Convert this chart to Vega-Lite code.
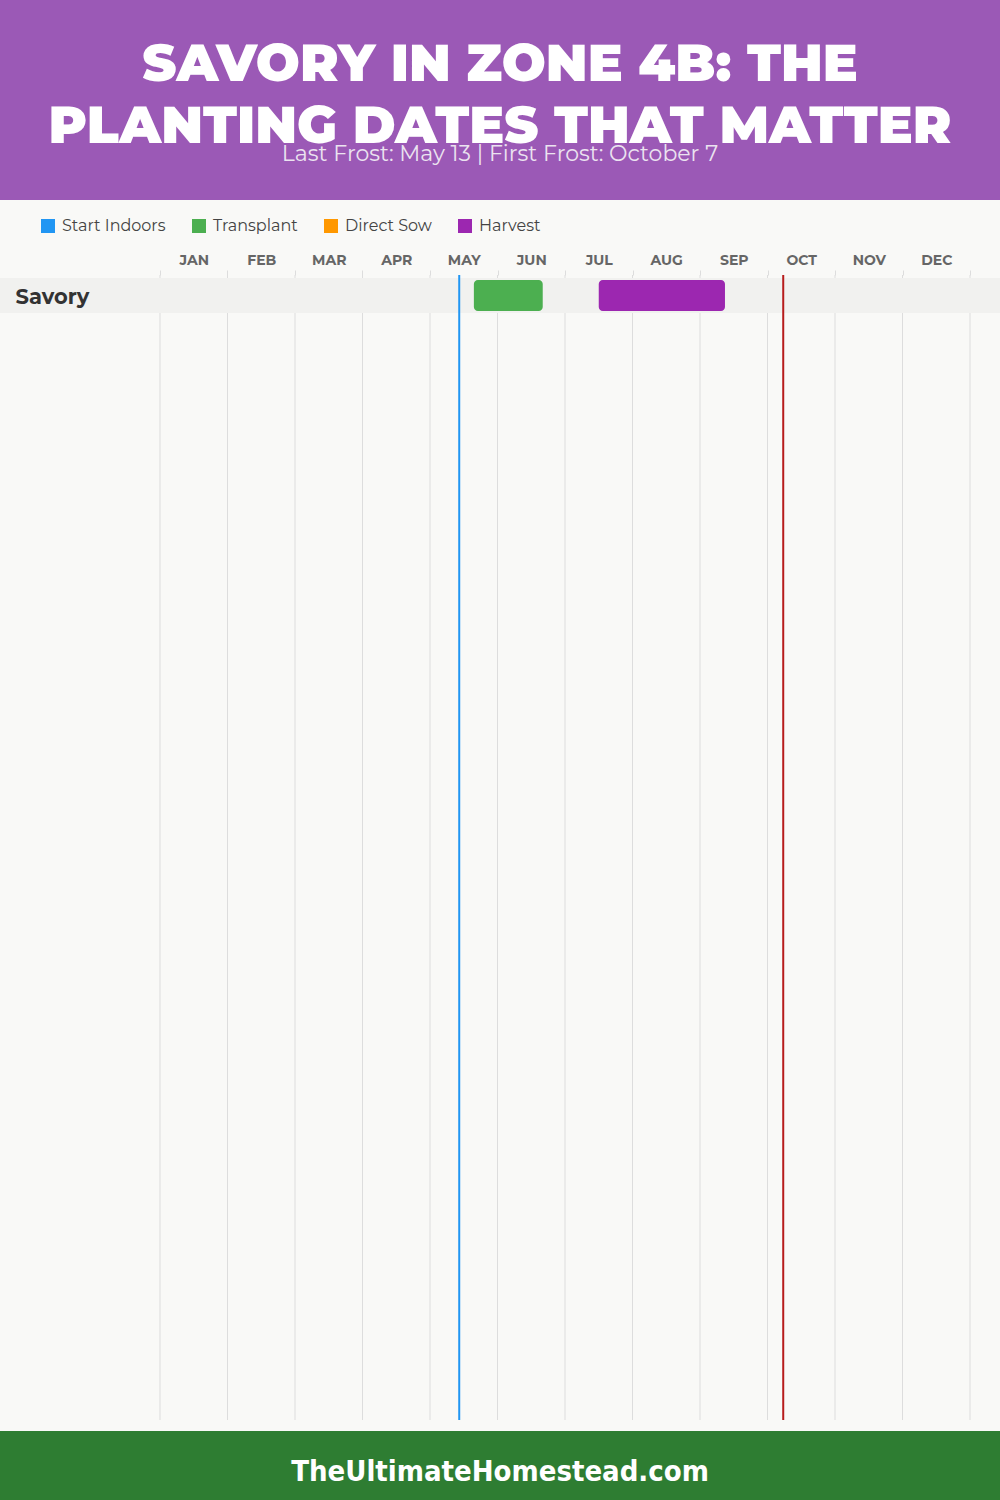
{
  "$schema": "https://vega.github.io/schema/vega-lite/v6.json",
  "background": "#f9f9f7",
  "padding": 0,
  "config": {"view": {"stroke": null}, "font": "Inter"},
  "spacing": 10,
  "resolve": {"scale": {"color": "independent"}, "legend": {"color": "independent"}},
  "vconcat": [
    {
      "spacing": 18,
      "resolve": {"scale": {"color": "independent"}, "legend": {"color": "independent"}},
      "vconcat": [
        {
          "width": 1000,
          "height": 200,
          "view": {"fill": "#9b59b6", "stroke": null},
          "title": {
            "text": ["SAVORY IN ZONE 4B: THE", "PLANTING DATES THAT MATTER"],
            "subtitle": "Last Frost: May 13 | First Frost: October 7",
            "anchor": "middle",
            "frame": "group",
            "orient": "top",
            "offset": -166,
            "font": "Montserrat, Inter",
            "fontSize": 52,
            "fontWeight": 900,
            "lineHeight": 62,
            "color": "#ffffff",
            "subtitleFont": "Montserrat, Inter",
            "subtitleFontSize": 22,
            "subtitleFontWeight": 400,
            "subtitleColor": "#ebe3f0",
            "subtitlePadding": -10
          },
          "data": {"values": [{}]},
          "mark": {"type": "rect", "color": "#9b59b6"}
        },
        {
          "width": 1000,
          "height": 1145,
          "layer": [
            {
              "data": {"values": [{"m": 0}, {"m": 1}, {"m": 2}, {"m": 3}, {"m": 4}, {"m": 5}, {"m": 6}, {"m": 7}, {"m": 8}, {"m": 9}, {"m": 10}, {"m": 11}, {"m": 12}]},
              "mark": {"type": "rule", "color": "#dddddd", "strokeWidth": 1},
              "encoding": {
                "x": {
                  "field": "m",
                  "type": "quantitative",
                  "title": null,
                  "scale": {"domain": [-2.370370, 12.444444], "nice": false, "zero": false},
                  "axis": {
                    "orient": "top",
                    "values": [0, 1, 2, 3, 4, 5, 6, 7, 8, 9, 10, 11, 12],
                    "labelExpr": "datum.value < 12 ? ['JAN','FEB','MAR','APR','MAY','JUN','JUL','AUG','SEP','OCT','NOV','DEC'][datum.value] : ''",
                    "labelOffset": 33.75,
                    "labelFlush": false,
                    "labelOverlap": false,
                    "grid": false,
                    "domain": false,
                    "ticks": true,
                    "tickSize": 5,
                    "tickColor": "#dddddd",
                    "labelPadding": 6,
                    "labelFont": "Montserrat, Inter",
                    "labelFontSize": 14,
                    "labelFontWeight": "bold",
                    "labelColor": "#666666",
                    "labelBaseline": "alphabetic",
                    "title": null
                  }
                }
              }
            },
            {
              "data": {"values": [{"crop": "Savory"}]},
              "mark": {"type": "rect", "color": "#f1f1ef"},
              "encoding": {
                "y": {
                  "field": "crop",
                  "type": "nominal",
                  "title": null,
                  "scale": {"domain": ["Savory"], "range": [3, 38], "paddingInner": 0, "paddingOuter": 0},
                  "axis": {
                    "orient": "left",
                    "offset": -15,
                    "labelAlign": "left",
                    "labelPadding": 0,
                    "labelOffset": 2,
                    "ticks": false,
                    "tickSize": 0,
                    "domain": false,
                    "grid": false,
                    "labelFont": "Montserrat, Inter",
                    "labelFontSize": 21,
                    "labelFontWeight": "bold",
                    "labelColor": "#333333",
                    "labelBaseline": "middle",
                    "title": null,
                    "zindex": 1
                  }
                }
              }
            },
            {
              "data": {
                "values": [
                  {"crop": "Savory", "task": "Transplant", "start": 4.65, "end": 5.67},
                  {"crop": "Savory", "task": "Harvest", "start": 6.5, "end": 8.37}
                ]
              },
              "mark": {"type": "bar", "cornerRadius": 4, "height": {"band": 0.88}},
              "encoding": {
                "y": {"field": "crop", "type": "nominal", "title": null},
                "x": {"field": "start", "type": "quantitative", "title": null},
                "x2": {"field": "end"},
                "color": {
                  "field": "task",
                  "type": "nominal",
                  "scale": {
                    "domain": ["Start Indoors", "Transplant", "Direct Sow", "Harvest"],
                    "range": ["#2196F3", "#4CAF50", "#FF9800", "#9C27B0"]
                  },
                  "legend": {
                    "orient": "none",
                    "legendX": 40,
                    "legendY": -57,
                    "direction": "horizontal",
                    "title": null,
                    "symbolType": "square",
                    "symbolSize": 196,
                    "symbolStrokeWidth": 0,
                    "symbolOpacity": 1,
                    "labelFont": "Montserrat, Inter",
                    "labelFontSize": 16,
                    "labelColor": "#444444",
                    "labelOffset": 6,
                    "columnPadding": 25,
                    "padding": 0
                  }
                }
              }
            },
            {
              "data": {"values": [{"event": "Last Frost", "month": 4.433}]},
              "mark": {"type": "rule", "color": "#2196F3", "strokeWidth": 2},
              "encoding": {"x": {"field": "month", "type": "quantitative", "title": null}}
            },
            {
              "data": {"values": [{"event": "First Frost", "month": 9.233}]},
              "mark": {"type": "rule", "color": "#b71c1c", "strokeWidth": 2},
              "encoding": {"x": {"field": "month", "type": "quantitative", "title": null}}
            }
          ]
        }
      ]
    },
    {
      "width": 1000,
      "height": 70,
      "view": {"fill": "#2e7d32", "stroke": null},
      "data": {"values": [{"site": "TheUltimateHomestead.com"}]},
      "mark": {"type": "text", "font": "DejaVu Sans Condensed", "fontWeight": "bold", "fontSize": 29, "color": "#ffffff", "baseline": "middle", "dy": 6},
      "encoding": {"text": {"field": "site"}}
    }
  ]
}
